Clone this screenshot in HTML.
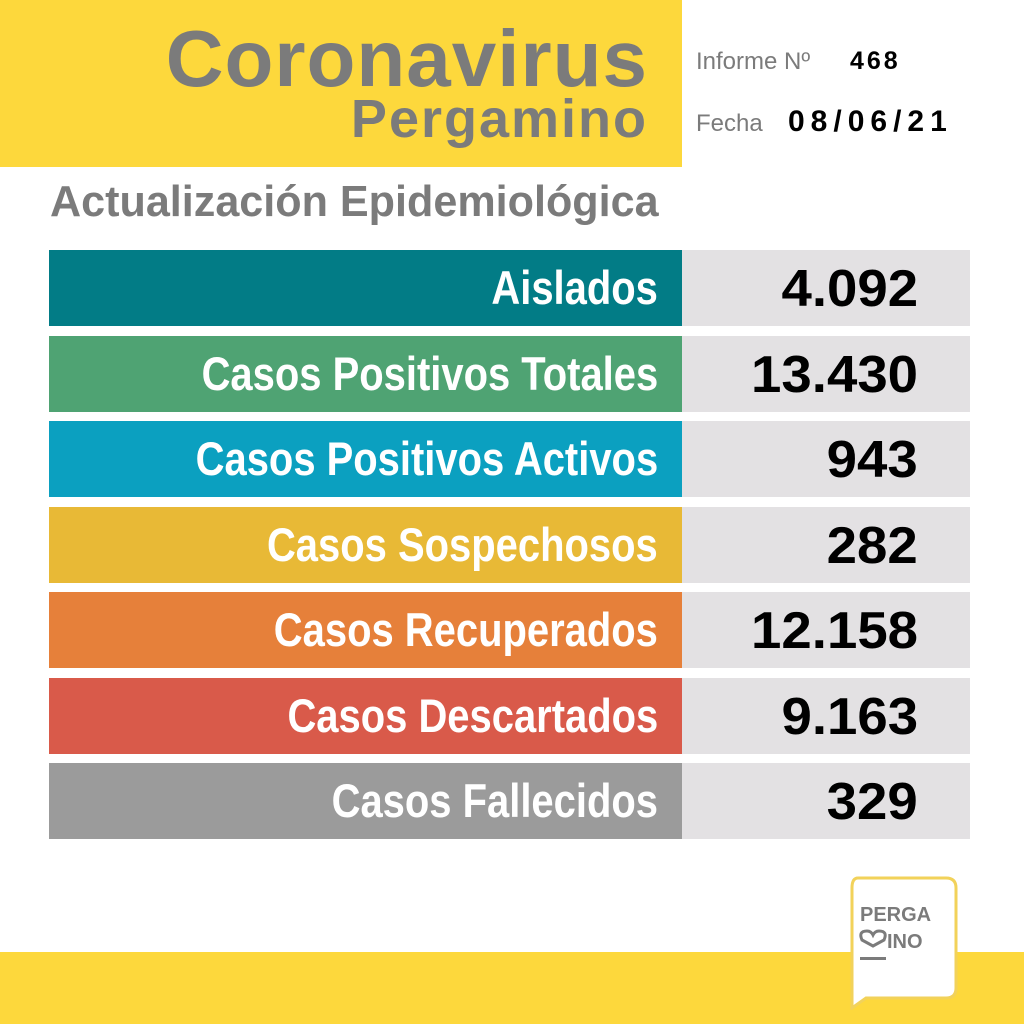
<!DOCTYPE html>
<html><head><meta charset="utf-8"><style>
*{margin:0;padding:0;box-sizing:border-box}
body{width:1024px;height:1024px;background:#fff;position:relative;overflow:hidden;font-family:"Liberation Sans",sans-serif}
.abs{position:absolute}
.sq{display:inline-block;transform-origin:right center;white-space:nowrap}
.row{position:absolute;left:49px;width:921px;height:76px}
.lab{position:absolute;left:0;top:0;width:633px;height:76px;text-align:right;padding-right:24px;color:#fff;font-weight:bold;font-size:47px;line-height:76px}
.val{position:absolute;left:633px;top:0;width:288px;height:76px;background:#e3e1e3;text-align:right;padding-right:52px;color:#000;font-weight:bold;font-size:52px;line-height:78px}
</style></head><body>
<div class="abs" style="left:0;top:0;width:682px;height:167px;background:#fdd83c"></div>
<div class="abs" style="right:376px;top:14px;font-size:80px;font-weight:bold;color:#7b7b7b;letter-spacing:1px;line-height:90px">Coronavirus</div>
<div class="abs" style="right:376px;top:89px;font-size:54px;font-weight:bold;color:#7b7b7b;letter-spacing:2px;line-height:60px">Pergamino</div>
<div class="abs" style="left:696px;top:48px;font-size:24px;color:#7b7b7b">Informe Nº</div>
<div class="abs" style="left:850px;top:47px;font-size:25px;font-weight:bold;color:#000;letter-spacing:3px">468</div>
<div class="abs" style="left:696px;top:110px;font-size:24px;color:#7b7b7b">Fecha</div>
<div class="abs" style="left:788px;top:105px;font-size:30px;font-weight:bold;color:#000;letter-spacing:6px">08/06/21</div>
<div class="abs" style="left:50px;top:172px;font-size:44px;font-weight:bold;color:#7b7b7b;line-height:60px"><span class="sq" style="transform:scaleX(0.98);transform-origin:left center">Actualización Epidemiológica</span></div>

<div class="row" style="top:250px"><div class="lab" style="background:#027c86"><span class="sq" style="transform:scaleX(0.85)">Aislados</span></div><div class="val"><span class="sq" style="transform:scaleX(1.05)">4.092</span></div></div>
<div class="row" style="top:336px"><div class="lab" style="background:#4fa373"><span class="sq" style="transform:scaleX(0.85)">Casos Positivos Totales</span></div><div class="val"><span class="sq" style="transform:scaleX(1.05)">13.430</span></div></div>
<div class="row" style="top:421px"><div class="lab" style="background:#0ba0c0"><span class="sq" style="transform:scaleX(0.85)">Casos Positivos Activos</span></div><div class="val"><span class="sq" style="transform:scaleX(1.05)">943</span></div></div>
<div class="row" style="top:507px"><div class="lab" style="background:#e8b936"><span class="sq" style="transform:scaleX(0.85)">Casos Sospechosos</span></div><div class="val"><span class="sq" style="transform:scaleX(1.05)">282</span></div></div>
<div class="row" style="top:592px"><div class="lab" style="background:#e6803a"><span class="sq" style="transform:scaleX(0.85)">Casos Recuperados</span></div><div class="val"><span class="sq" style="transform:scaleX(1.05)">12.158</span></div></div>
<div class="row" style="top:678px"><div class="lab" style="background:#d95a4a"><span class="sq" style="transform:scaleX(0.85)">Casos Descartados</span></div><div class="val"><span class="sq" style="transform:scaleX(1.05)">9.163</span></div></div>
<div class="row" style="top:763px"><div class="lab" style="background:#9b9b9b"><span class="sq" style="transform:scaleX(0.85)">Casos Fallecidos</span></div><div class="val"><span class="sq" style="transform:scaleX(1.05)">329</span></div></div>

<div class="abs" style="left:0;top:952px;width:1024px;height:72px;background:#fdd83c"></div>
<svg class="abs" style="left:840px;top:870px" width="124" height="140">
<path d="M18 8 H106 Q116 8 116 18 V118 Q116 128 106 128 H26 L12 138 V18 Q12 8 18 8 Z" fill="#fff" stroke="#f2d25a" stroke-width="3"/>
<text x="20" y="51" font-family="Liberation Sans" font-weight="bold" font-size="20" fill="#7b7b7b">PERGA</text>
<path d="M22 70 q-4 -9 5 -9 q4 0 6 4 q2 -4 6 -4 q9 0 5 9 l-11 6 z" fill="none" stroke="#7b7b7b" stroke-width="3"/>
<text x="47" y="78" font-family="Liberation Sans" font-weight="bold" font-size="20" fill="#7b7b7b">INO</text>
<rect x="20" y="87" width="26" height="3" fill="#7b7b7b"/>
</svg>
</body></html>
